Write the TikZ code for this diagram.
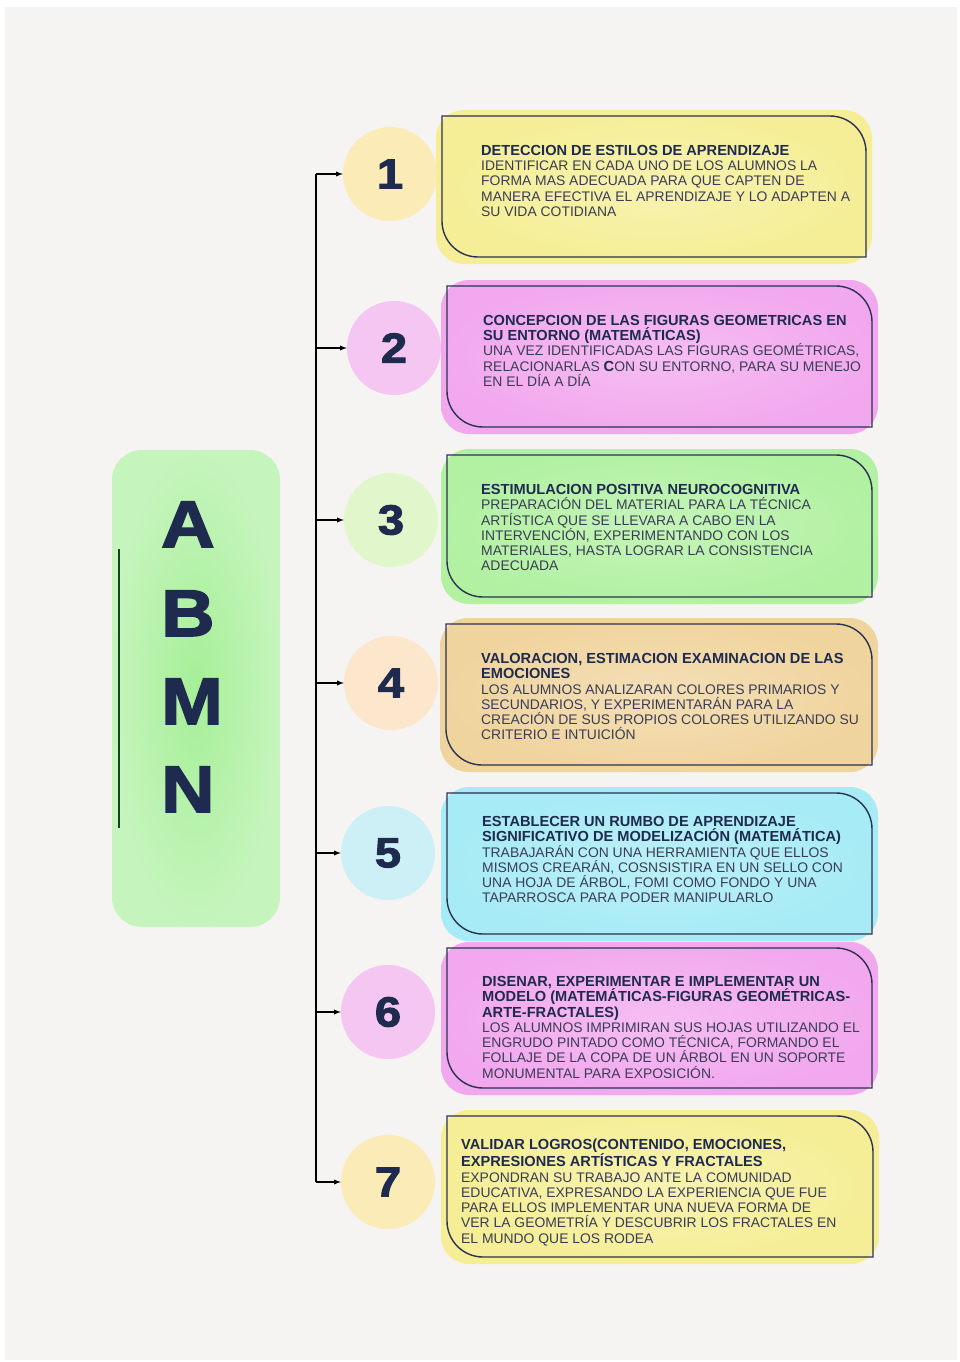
\documentclass[tikz,border=0pt]{standalone}
\usepackage{fontspec}
\setmainfont{Liberation Sans}
\newfontfamily\heavyfont[BoldFeatures={FakeBold=2.5,FakeStretch=1.12}]{Liberation Sans}
\usepackage{tikz}

\definecolor{paper}{HTML}{F5F4F2}
\definecolor{navy}{HTML}{1F2A4F}
\definecolor{bodytxt}{HTML}{3A3D55}
\definecolor{edge}{HTML}{2B3152}
\definecolor{yelbox}{HTML}{F5EE96}
\definecolor{pinkbox}{HTML}{F2A8EE}
\definecolor{greenbox}{HTML}{B2F1A2}
\definecolor{tanbox}{HTML}{F0D49E}
\definecolor{bluebox}{HTML}{A6EBF5}
\definecolor{yelcirc}{HTML}{FAEBB7}
\definecolor{pinkcirc}{HTML}{F5C6F1}
\definecolor{greencirc}{HTML}{E1F7CB}
\definecolor{tancirc}{HTML}{FCE6CC}
\definecolor{bluecirc}{HTML}{CDEFF6}
\definecolor{abmngreen}{HTML}{A6EF98}

\tikzset{
  numcirc/.style={circle, minimum size=94pt, inner sep=0pt, text=navy,
    font=\heavyfont\bfseries\fontsize{42}{42}\selectfont},
  letter/.style={anchor=base west, inner sep=0pt, text=navy,
    font=\heavyfont\bfseries\fontsize{66}{66}\selectfont},
  boxtxt/.style={anchor=north west, align=left, inner sep=0pt, text=bodytxt,
    font=\fontsize{13.9}{15.3}\selectfont},
  outline/.style={draw=edge, line width=1.4pt},
}
\newcommand{\ttl}[1]{\textcolor{navy}{\fontsize{14.6}{15.3}\selectfont\textbf{#1}}}

\begin{document}
\begin{tikzpicture}[x=1pt, y=-1pt]
    \useasboundingbox (0,0) rectangle (960,1362);
    % Draw page
    \fill[paper] (5,7) rectangle (957,1360);

    % Draw ABMN block
    \shade[rounded corners=30, inner color=abmngreen, outer color=abmngreen!65!white]
      (112,450) rectangle (280,927);
    \draw[edge!70!green!60!black, line width=1.3pt] (119,549) -- (119,828);
    \foreach \l/\yb in {A/547, B/636, M/724, N/812} {
      \node[letter] (l\l) at (161,\yb) {\l};
    }

    % Draw boxes: fill, then outline with two round corners
    \foreach \i/\xa/\ya/\xb/\yb/\col in {1/442/116/866/257/yelbox, 2/447/286/872/427/pinkbox,
      3/447/455/872/597/greenbox, 4/446/624/872/765/tanbox, 5/447/793/872/934/bluebox,
      6/447/948/872/1088/pinkbox, 7/447/1116/873/1257/yelbox} {
      \shade[rounded corners=28, inner color=\col!75!white, outer color=\col]
        (\xa-6,\ya-6) rectangle (\xb+6,\yb+7);
      \draw[outline] (\xa,\ya) -- (\xb-36,\ya) arc[start angle=-90, end angle=0, radius=36]
        -- (\xb,\yb) -- (\xa+36,\yb) arc[start angle=90, end angle=180, radius=36] -- cycle;
    }

    % Draw circles, trunk and arrows
    \foreach \i/\x/\y/\col in {1/390/174/yelcirc, 2/394/348/pinkcirc, 3/391/520/greencirc,
      4/391/683/tancirc, 5/388/853/bluecirc, 6/388/1012/pinkcirc, 7/388/1182/yelcirc} {
      \node[numcirc, fill=\col] (c\i) at (\x,\y) {\i};
      \coordinate (t\i) at (316,\y);
      \draw[-latex, line width=1.3pt] (t\i) -- (c\i);
    }
    \draw[line width=1.3pt] (t1) -- (t7);

    % Box texts
    \node[boxtxt] (txt1) at (481,145) {\ttl{DETECCION DE ESTILOS DE APRENDIZAJE}\\
      IDENTIFICAR EN CADA UNO DE LOS ALUMNOS LA\\
      FORMA MAS ADECUADA PARA QUE CAPTEN DE\\
      MANERA EFECTIVA EL APRENDIZAJE Y LO ADAPTEN A\\
      SU VIDA COTIDIANA};
    \node[boxtxt] (txt2) at (483,315) {\ttl{CONCEPCION DE LAS FIGURAS GEOMETRICAS EN}\\
      \ttl{SU ENTORNO (MATEMÁTICAS)}\\
      UNA VEZ IDENTIFICADAS LAS FIGURAS GEOMÉTRICAS,\\
      RELACIONARLAS \ttl{C}ON SU ENTORNO, PARA SU MENEJO\\
      EN EL DÍA A DÍA};
    \node[boxtxt] (txt3) at (481,484) {\ttl{ESTIMULACION POSITIVA NEUROCOGNITIVA}\\
      PREPARACIÓN DEL MATERIAL PARA LA TÉCNICA\\
      ARTÍSTICA QUE SE LLEVARA A CABO EN LA\\
      INTERVENCIÓN, EXPERIMENTANDO CON LOS\\
      MATERIALES, HASTA LOGRAR LA CONSISTENCIA\\
      ADECUADA};
    \node[boxtxt] (txt4) at (481,653) {\ttl{VALORACION, ESTIMACION EXAMINACION DE LAS}\\
      \ttl{EMOCIONES}\\
      LOS ALUMNOS ANALIZARAN COLORES PRIMARIOS Y\\
      SECUNDARIOS, Y EXPERIMENTARÁN PARA LA\\
      CREACIÓN DE SUS PROPIOS COLORES UTILIZANDO SU\\
      CRITERIO E INTUICIÓN};
    \node[boxtxt] (txt5) at (482,816) {\ttl{ESTABLECER UN RUMBO DE APRENDIZAJE}\\
      \ttl{SIGNIFICATIVO DE MODELIZACIÓN (MATEMÁTICA)}\\
      TRABAJARÁN CON UNA HERRAMIENTA QUE ELLOS\\
      MISMOS CREARÁN, COSNSISTIRA EN UN SELLO CON\\
      UNA HOJA DE ÁRBOL, FOMI COMO FONDO Y UNA\\
      TAPARROSCA PARA PODER MANIPULARLO};
    \node[boxtxt] (txt6) at (482,976) {\ttl{DISENAR, EXPERIMENTAR E IMPLEMENTAR UN}\\
      \ttl{MODELO (MATEMÁTICAS-FIGURAS GEOMÉTRICAS-}\\
      \ttl{ARTE-FRACTALES)}\\
      LOS ALUMNOS IMPRIMIRAN SUS HOJAS UTILIZANDO EL\\
      ENGRUDO PINTADO COMO TÉCNICA, FORMANDO EL\\
      FOLLAJE DE LA COPA DE UN ÁRBOL EN UN SOPORTE\\
      MONUMENTAL PARA EXPOSICIÓN.};
    \node[boxtxt] (txt7) at (461,1139) {\ttl{VALIDAR LOGROS(CONTENIDO, EMOCIONES,}\\
      \ttl{EXPRESIONES ARTÍSTICAS Y FRACTALES}\\
      EXPONDRAN SU TRABAJO ANTE LA COMUNIDAD\\
      EDUCATIVA, EXPRESANDO LA EXPERIENCIA QUE FUE\\
      PARA ELLOS IMPLEMENTAR UNA NUEVA FORMA DE\\
      VER LA GEOMETRÍA Y DESCUBRIR LOS FRACTALES EN\\
      EL MUNDO QUE LOS RODEA};

\end{tikzpicture}
\end{document}
